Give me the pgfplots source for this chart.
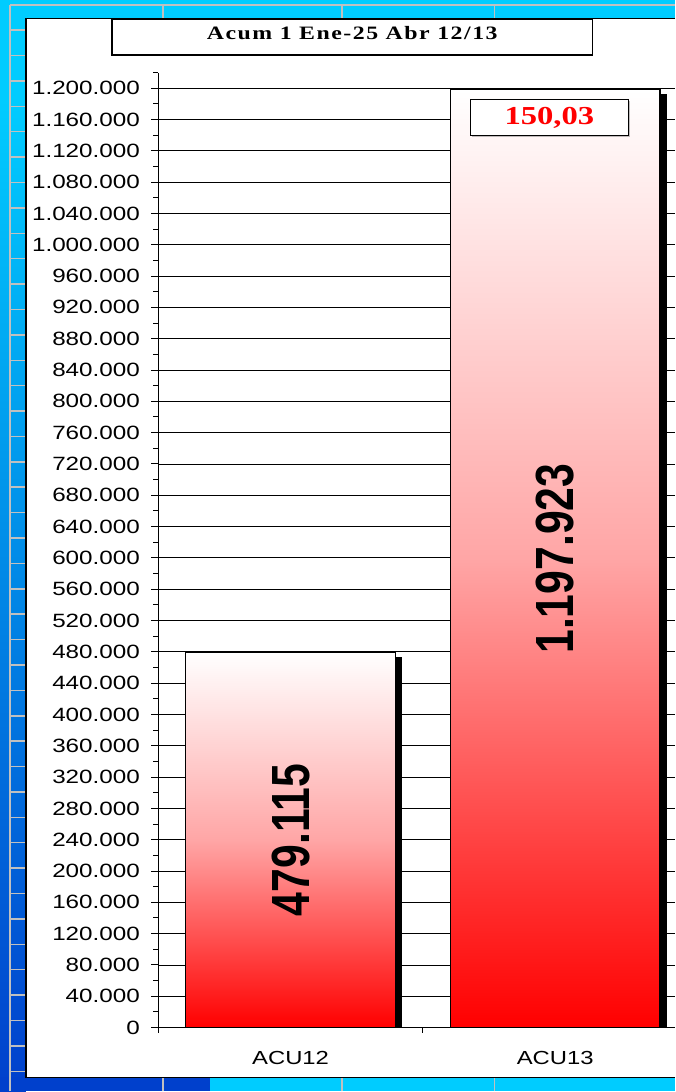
\documentclass[border=0pt]{standalone}
\usepackage{fontspec}
\setmainfont{Liberation Sans}
% the reference is stretched sideways, so the fonts are too
\newfontfamily\arialx[FakeStretch=1.26]{Liberation Sans}
\newfontfamily\arialbig[FakeStretch=0.794]{Liberation Sans}
\newfontfamily\timesx[FakeStretch=1.26,LetterSpace=8]{Liberation Serif}
\newfontfamily\timesr[FakeStretch=1.26]{Liberation Serif}
\usepackage{pgfplots}
\pgfplotsset{compat=1.18}
\usetikzlibrary{shadows,backgrounds}

\definecolor{bgcyan}{RGB}{0,204,255}
\definecolor{bgblue}{RGB}{0,64,204}
\definecolor{gridgrey}{RGB}{192,192,192}

\begin{document}
\begin{tikzpicture}[x=1bp,y=1bp]
\begin{axis}[
  anchor=south west,
  scale only axis, width=516.6bp, height=955.7bp,
  xmin=-0.5, xmax=1.451, ymin=0, ymax=1220000,
  axis x line*=bottom, axis y line*=left,
  axis line style={black, line width=1.2bp},
  tick align=outside,
  major tick length=7bp, minor tick length=5bp,
  tick style={black, line width=1bp},
  xtick={0,1}, xticklabels={ACU12,ACU13},
  major x tick style={draw=none},
  minor xtick={-0.5,0.5},
  ytick distance=40000, minor y tick num=1,
  ymajorgrids, major grid style={black, line width=0.8bp},
  scaled y ticks=false,
  /pgf/number format/assume math mode=true,
  yticklabel style={/pgf/number format/fixed, /pgf/number format/1000 sep={.},
    font=\arialx\fontsize{19.3}{22}\selectfont, xshift=-8bp},
  xticklabel style={font=\arialx\fontsize{19}{22}\selectfont, yshift=-13bp},
]
% shadows
\addplot[ybar, bar width=210bp, bar shift=6.4bp, fill=black, draw=none, yshift=-4bp]
  coordinates {(0,479115)};
\addplot[ybar, bar width=210bp, bar shift=6.4bp, fill=black, draw=none, yshift=-4bp]
  coordinates {(1,1197923)};
% bars
\addplot[ybar, bar width=210bp, bar shift=0pt, draw=black, line width=1.3bp,
  top color=white, bottom color=red, middle color=red!35!white]
  coordinates {(0,479115)};
\addplot[ybar, bar width=210bp, bar shift=0pt, draw=black, line width=1.3bp,
  top color=white, bottom color=red, middle color=red!35!white]
  coordinates {(1,1197923)};
% values, at half height
\addplot[draw=none, mark=none, nodes near coords, point meta=explicit symbolic,
  every node near coord/.append style={anchor=center, rotate=90, black,
    font=\arialbig\bfseries\fontsize{54}{60}\selectfont}]
  coordinates {(0,239557.5)[479.115] (1,598961.5)[1.197.923]};
\node[draw=black, line width=1.2bp, fill=white, minimum width=158bp, minimum height=36.7bp,
  anchor=north, inner sep=0, text=red,
  drop shadow={shadow xshift=1.5bp, shadow yshift=-1.5bp, fill=gray},
  font=\timesr\bfseries\fontsize{26}{30}\selectfont]
  at ([xshift=-5.8bp, yshift=-8.7bp]axis cs:1,1197923) {150,03};
\end{axis}

% slide background, in picture pixels measured from the bottom left corner,
% moved so that the axis corner (158.4,63.7) lies on the origin
\begin{scope}[on background layer, shift={(-158.4,-63.7)}]
\fill[bgcyan] (0,0) rectangle (675,1092);
\shade[top color=bgcyan, bottom color=bgblue] (0,0) rectangle (26,992);
\fill[bgblue] (0,0) rectangle (210,14);
\foreach \gx in {10,163,342,495}
  \draw[gridgrey, line width=1.5] (\gx,0) -- (\gx,1087.2);
\foreach \k in {0,...,42}
  \draw[gridgrey, line width=1.5] (10,{1087.2-25.41*\k}) -- (675,{1087.2-25.41*\k});
\fill[white] (26,13.7) rectangle (675,1073.7);
\draw[black, line width=1.5] (675,13.7) -- (26,13.7) -- (26,1073.7) -- (675,1073.7);
\draw[black, line width=1.5, fill=white] (112,1036.8) rectangle (593,1072.7);
\node[anchor=base, inner sep=0] at (352.5,1052.3)
  {\timesx\bfseries\fontsize{19}{22}\selectfont Acum 1 Ene-25 Abr 12/13};
\end{scope}
\end{tikzpicture}
\end{document}
